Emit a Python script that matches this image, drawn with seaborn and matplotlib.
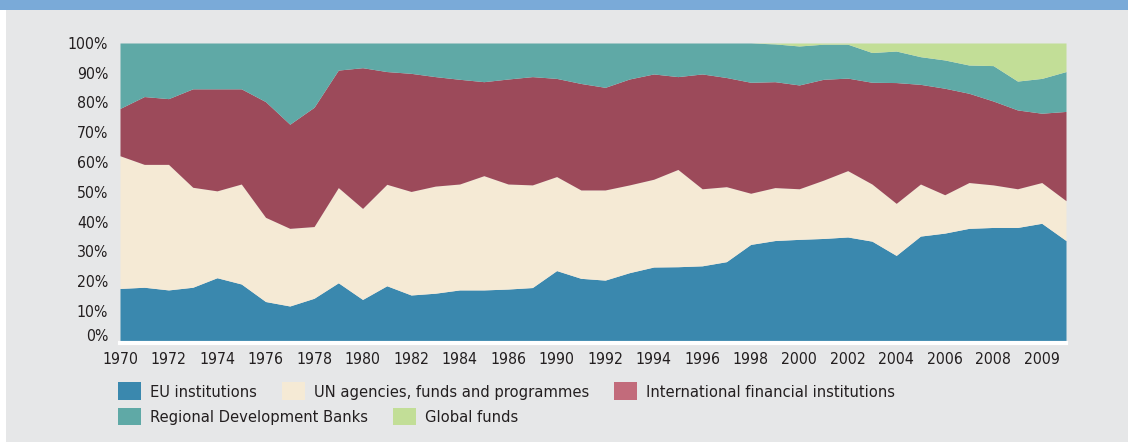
import numpy as np
import pandas as pd
import matplotlib
matplotlib.use("Agg")
import matplotlib.pyplot as plt
import matplotlib.transforms as mtransforms
from matplotlib.patches import Patch, Rectangle
from matplotlib import font_manager
import seaborn as sns

# ---------------- data (shares in %, 1970-2009) ----------------
years = list(range(1970, 2010))
tick_labels = ["1970", "1972", "1974", "1976", "1978", "1980", "1982", "1984", "1986",
               "1990", "1992", "1994", "1996", "1998", "2000", "2002", "2004", "2006",
               "2008", "2009"]

eu_institutions = [17.5, 17.9, 17.0, 17.9, 21.1, 19.0, 13.1, 11.6, 14.2, 19.4,
                   13.8, 18.4, 15.3, 15.9, 17.0, 17.0, 17.3, 17.8, 23.5, 20.9,
                   20.3, 22.8, 24.7, 24.8, 25.1, 26.5, 32.3, 33.6, 34.0, 34.3,
                   34.8, 33.4, 28.6, 35.1, 36.1, 37.7, 38.0, 38.0, 39.4, 33.6]
un_agencies = [44.6, 41.3, 42.2, 33.6, 29.2, 33.6, 28.3, 26.1, 24.1, 32.0,
               30.6, 34.1, 34.8, 36.0, 35.6, 38.4, 35.3, 34.5, 31.6, 29.7,
               30.3, 29.5, 29.5, 32.7, 25.9, 25.2, 17.2, 17.8, 17.0, 19.6,
               22.3, 19.2, 17.5, 17.5, 12.9, 15.4, 14.3, 13.0, 13.7, 13.4]
ifi = [15.9, 22.8, 22.1, 33.1, 34.3, 32.0, 38.9, 35.0, 40.1, 39.5,
       47.3, 37.9, 39.7, 36.8, 35.2, 31.6, 35.3, 36.4, 33.0, 35.8,
       34.5, 35.6, 35.4, 31.2, 38.6, 36.7, 37.3, 35.6, 34.9, 33.9,
       31.1, 34.2, 40.6, 33.5, 35.8, 30.0, 28.2, 26.5, 23.3, 30.0]
rdb = [22.0, 18.0, 18.7, 15.4, 15.4, 15.4, 19.7, 27.3, 21.6, 9.1,
       8.3, 9.6, 10.2, 11.3, 12.2, 13.0, 12.1, 11.3, 11.9, 13.6,
       14.9, 12.1, 10.4, 11.3, 10.4, 11.6, 13.2, 12.7, 13.1, 11.8,
       11.4, 10.0, 10.6, 9.3, 9.5, 9.5, 11.9, 9.7, 11.7, 13.4]
global_funds = [0, 0, 0, 0, 0, 0, 0, 0, 0, 0,
                0, 0, 0, 0, 0, 0, 0, 0, 0, 0,
                0, 0, 0, 0, 0, 0, 0, 0.3, 1.0, 0.4,
                0.4, 3.2, 2.7, 4.6, 5.7, 7.4, 7.6, 12.8, 11.9, 9.6]

series_names = ["EU institutions", "UN agencies, funds and programmes",
                "International financial institutions", "Regional Development Banks",
                "Global funds"]
area_colors = ["#3a88ae", "#f5ead5", "#9c4a5a", "#5fa9a6", "#c2de97"]
legend_colors = ["#3a88ae", "#f5ead5", "#c26b7b", "#5fa9a6", "#c2de97"]

df = pd.DataFrame({
    series_names[0]: eu_institutions,
    series_names[1]: un_agencies,
    series_names[2]: ifi,
    series_names[3]: rdb,
    series_names[4]: global_funds,
}, index=years)

# ---------------- style ----------------
sns.set_style("white")

# prefer a condensed face if one is installed, otherwise Liberation Sans
tick_fs, leg_fs = 11, 11.5
fam = ["Liberation Sans", "DejaVu Sans"]
stretch = "normal"
try:
    p = font_manager.findfont(font_manager.FontProperties(family="DejaVu Sans", stretch="condensed"),
                              fallback_to_default=False)
    if "ondensed" in p:
        fam = ["DejaVu Sans"]
        stretch = "condensed"
        tick_fs, leg_fs = 11.3, 11.8
except Exception:
    pass
plt.rcParams["font.family"] = fam
plt.rcParams["font.stretch"] = stretch

bg = "#e6e7e8"
txt = "#231f20"

W, H = 1128, 442
fig = plt.figure(figsize=(W / 100, H / 100), dpi=100, facecolor=bg)

# decorative top band and left white strip
fig.patches.append(Rectangle((0, 1 - 10 / H), 1, 10 / H, transform=fig.transFigure,
                             facecolor="#7aaad8", edgecolor="none", zorder=0))
fig.patches.append(Rectangle((0, 0), 6 / W, 1 - 10 / H, transform=fig.transFigure,
                             facecolor="white", edgecolor="none", zorder=0))

ax = fig.add_axes([120 / W, 1 - 340.5 / H, 946 / W, 297.5 / H])
ax.set_facecolor(bg)

ax.stackplot(df.index, [df[c].values for c in series_names],
             colors=area_colors, linewidth=0)

ax.set_xlim(years[0], years[-1])
ax.set_ylim(0, 100)

ax.set_xticks(years[0::2])
ax.set_xticklabels(tick_labels)
yt = list(range(0, 101, 10))
ax.set_yticks(yt)
ax.set_yticklabels([f"{v}%" for v in yt])
ax.tick_params(axis="both", length=0, labelsize=tick_fs, colors=txt)
ax.tick_params(axis="y", pad=8.5)
ax.tick_params(axis="x", pad=7)

# nudge the 0% label upward as in the reference
for lab in ax.get_yticklabels():
    if lab.get_text() == "0%":
        lab.set_transform(lab.get_transform() +
                          mtransforms.ScaledTranslation(0, 5.5 / 100, fig.dpi_scale_trans))

for s in ["top", "left", "right"]:
    ax.spines[s].set_visible(False)
ax.spines["bottom"].set_color("white")
ax.spines["bottom"].set_linewidth(3)
ax.spines["bottom"].set_position(("outward", 1.5))

# ---------------- legend (two flowing rows) ----------------
fs_px = leg_fs * 100 / 72


def make_legend(idx, y_px):
    handles = [Patch(facecolor=legend_colors[i], edgecolor="none") for i in idx]
    labels = [series_names[i] for i in idx]
    leg = fig.legend(handles, labels, loc="center left",
                     bbox_to_anchor=(118 / W, 1 - y_px / H),
                     ncol=len(idx), frameon=False, fontsize=leg_fs,
                     handlelength=23 / fs_px, handleheight=20 / fs_px,
                     handletextpad=9 / fs_px,
                     columnspacing=25 / fs_px, borderpad=0, borderaxespad=0)
    for t in leg.get_texts():
        t.set_color(txt)
    return leg


make_legend([0, 1, 2], 391)
make_legend([3, 4], 416.5)

fig.savefig("out.png", dpi=100, facecolor=bg)
